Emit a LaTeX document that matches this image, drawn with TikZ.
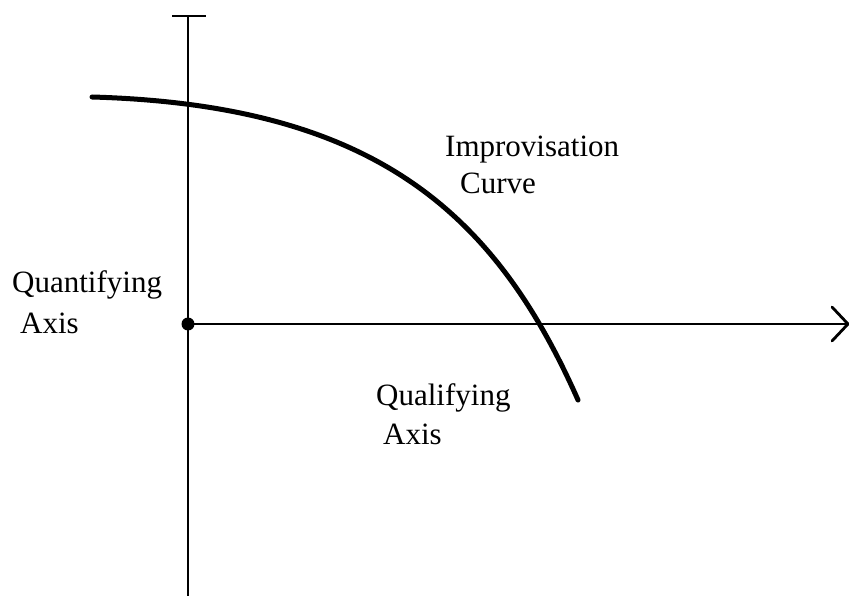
\documentclass[tikz,border=0pt]{standalone}
\usepackage{fontspec}
\setmainfont{Liberation Serif}
\begin{document}
\begin{tikzpicture}[x=1pt,y=-1pt,
  axisline/.style={line width=2.8pt,black},
  curveline/.style={line width=5pt,black,line cap=round},
  lbl/.style={anchor=base west,inner sep=0pt,font=\fontsize{31}{37}\selectfont}]
\useasboundingbox (0,0) rectangle (849,596);
% coordinates
\coordinate (O) at (188,324);
\coordinate (vtop) at (188,16);
\coordinate (vbot) at (188,596);
\coordinate (tickL) at (172,16);
\coordinate (tickR) at (206,16);
\coordinate (hend) at (848,324);
\coordinate (arrU) at (832,307);
\coordinate (arrD) at (832,341);
\coordinate (cs) at (92,97);
\coordinate (ce) at (578,400);
% axes
\draw[axisline] (vtop) -- (vbot);
\draw[axisline] (tickL) -- (tickR);
\draw[axisline] (O) -- (hend);
\draw[axisline,line cap=round,line join=miter] (arrU) -- (hend) -- (arrD);
\fill (O) circle (6.5);
% curve
\draw[curveline] (cs) .. controls (372,105) and (494,210) .. (ce);
% labels
\node[lbl] (imp) at (445,157) {Improvisation};
\node[lbl] (cur) at (460,194) {Curve};
\node[lbl] (qn) at (12,292) {Quantifying};
\node[lbl] (qnA) at (20,333) {Axis};
\node[lbl] (ql) at (376,405) {Qualifying};
\node[lbl] (qlA) at (383,444) {Axis};
\end{tikzpicture}
\end{document}
